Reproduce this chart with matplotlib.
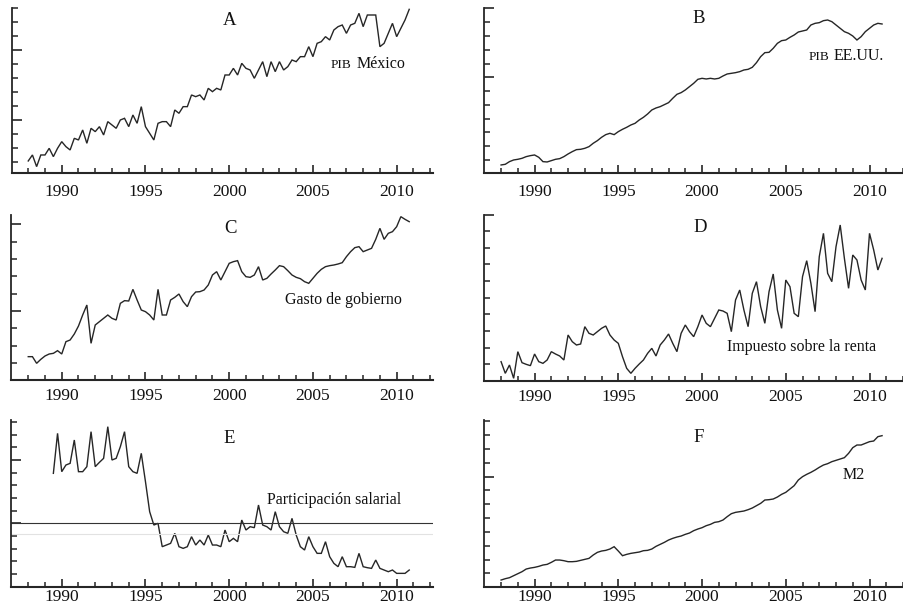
import numpy as np
import matplotlib
matplotlib.use("Agg")
import matplotlib.pyplot as plt

plt.rcParams['font.family'] = ['Liberation Serif', 'DejaVu Serif']

# Quarterly dates 1988Q1 .. 2010Q4
years = 1988 + np.arange(92) * 0.25

pib_mexico = [7.4, 11, 4, 11, 11, 15, 10, 15, 19, 16, 14, 21, 20, 26, 18, 27,
              25, 28, 23, 31, 29, 27, 32, 33, 28, 35, 30, 40, 28, 24, 20, 30,
              31, 31, 28, 38, 36, 40, 40, 47, 46, 47, 44, 51, 49, 51, 50, 59,
              59, 63, 59, 66, 63, 62, 57, 62, 67, 58, 67, 61, 67, 62, 64, 68,
              67, 70, 70, 76, 70, 78, 79, 82, 80, 86, 88, 89, 84, 89, 90, 96,
              88, 95, 95, 95, 76, 78, 84, 90, 82, 87, 92, 98.4]

pib_eeuu = [5, 5.4, 7, 8, 8.4, 9, 10, 10.6, 11, 9.6, 7, 6.8, 7.6, 8.4, 8.8, 10,
            11.6, 13, 14.2, 14.4, 15, 16, 18, 19.6, 21.6, 23.2, 24, 23.2, 25, 26.4, 27.6, 29,
            30, 32, 33.6, 35.6, 38, 39.2, 40, 41.2, 42.4, 45, 47.4, 48.4, 50, 52, 54, 56.4,
            57, 56.6, 57, 56.6, 57, 58.4, 59.6, 60, 60.4, 61, 62, 62.4, 63.6, 66.4, 70, 72.4,
            72.6, 75, 78, 79.6, 80, 81.6, 83, 84.8, 85.4, 86, 89, 90, 90.4, 91.6, 92, 91,
            89, 87, 85, 84, 82.4, 80, 82, 85, 87, 89, 90, 89.6]

gasto_gobierno = [14, 14, 10, 12.4, 14.4, 15.6, 16, 17.6, 15.6, 23, 24, 27.6, 32.4, 39, 45, 22,
                  33, 35, 37, 39, 37, 36, 46, 47.6, 47.4, 54.4, 48, 42, 41, 39, 36, 54.4,
                  39, 39, 48, 49.6, 51.6, 47, 44, 50, 52.8, 53, 54, 57, 63, 65, 60, 65,
                  70, 71, 71.6, 65, 62, 61.6, 63, 68, 60, 61, 63.6, 66, 68.6, 68, 65.6, 63,
                  61.6, 60.8, 59, 58, 61, 64, 66.4, 68, 68.6, 69, 69.6, 70.4, 74, 77, 79.4, 80,
                  77, 78, 79, 84.4, 91, 84.4, 88, 89, 92, 98, 96.4, 95]

impuesto_renta = [11.6, 4.6, 9.6, 1.6, 17.6, 11, 10, 9.2, 16.2, 11.6, 10.6, 12.6, 17.6, 16.2, 15, 12.6,
                  27.6, 23.6, 21.6, 22.2, 32.6, 28.6, 27.6, 29.6, 31.6, 33, 27.6, 24.6, 22.6, 14.6, 7.6, 4.6,
                  7.6, 10.2, 12.6, 16.6, 19.6, 15, 21.6, 24.6, 28.2, 22.6, 17.6, 28.6, 33.6, 29.6, 26.6, 32.6,
                  39.6, 34.6, 32.6, 37.6, 42.6, 42, 40.6, 29.6, 48.6, 54.6, 42.6, 32.6, 52.6, 59.6, 44.6, 34.6,
                  53.6, 64.2, 42.6, 31.6, 60.6, 56.6, 40.6, 38.6, 62.6, 72.2, 58.6, 41.6, 74.6, 88.6, 64.6, 59.6,
                  80.6, 93.6, 73.6, 55.6, 75.6, 72.6, 60.6, 54.6, 88.6, 78.6, 66.6, 73.6]

participacion_salarial = [np.nan] * 6 + [
    68, 92, 69, 73, 74, 88, 69, 69, 72, 93,
    72, 74.6, 77, 96, 76, 77, 84, 93, 72, 69, 68, 80, 63, 45, 37, 38,
    24, 25, 26, 32, 24, 23, 24, 30, 25, 28, 25, 31, 25, 25, 24, 34,
    27, 29, 27, 40, 34, 36, 35.4, 49, 37, 36, 34, 45, 36, 33, 32, 41,
    31, 24, 22, 30, 24, 20, 20, 27, 18, 14, 12, 18, 12, 12, 11.6, 20,
    12, 11.4, 11, 16, 11, 10, 9, 10, 8, 8, 8, 10]

m2 = [4, 4.8, 5.4, 6.6, 7.8, 9, 10.6, 11.2, 11.6, 12.2, 13, 13.4, 14.6, 16, 16, 15.6,
      15, 15, 15.2, 15.8, 16.4, 17, 19, 20.6, 21.4, 21.8, 22.6, 24, 21.4, 18.6, 19.4, 20,
      20.4, 20.8, 21.6, 21.8, 22.6, 24.2, 25.4, 26.6, 28, 29, 29.8, 30.4, 31.4, 32.2, 33.6, 34.6,
      35.4, 36.6, 37.4, 38.6, 39, 40, 42, 43.8, 44.6, 45, 45.4, 46.2, 47.2, 48.6, 50, 52,
      52.2, 52.6, 53.8, 55.4, 56.6, 58.6, 60.6, 64, 66, 67.4, 68.6, 70, 71.6, 73, 73.8, 75,
      75.8, 76.6, 77.4, 80, 83.4, 85, 85, 86, 87, 87.4, 90, 90.6]

umbral_salarial = 38.0

panel_letters = ["A", "B", "C", "D", "E", "F"]
series_labels = ["México", "EE.UU.", "Gasto de gobierno",
                 "Impuesto sobre la renta", "Participación salarial", "M2"]
series = [pib_mexico, pib_eeuu, gasto_gobierno, impuesto_renta,
          participacion_salarial, m2]

W, H = 904, 608
fig = plt.figure(figsize=(W / 100, H / 100), dpi=100)

# layout in pixels: left, right, bottom, top, xlim, ylim, tick label pad
layout = [
    dict(l=12, r=433, b=173.3, t=7.5, xlim=(1987.03, 2012.17), ylim=(0, 99.5), pad=7.5),
    dict(l=484, r=903, b=173.3, t=7.5, xlim=(1986.98, 2011.95), ylim=(0, 99.5), pad=7.5),
    dict(l=11, r=433, b=380, t=215, xlim=(1986.97, 2012.17), ylim=(0, 99), pad=5.5),
    dict(l=484, r=903, b=381, t=215, xlim=(1986.98, 2011.95), ylim=(0, 99.6), pad=5.5),
    dict(l=11, r=433, b=586.7, t=420, xlim=(1986.97, 2012.17), ylim=(0, 100), pad=2.0),
    dict(l=484, r=903, b=586.7, t=420, xlim=(1986.98, 2011.95), ylim=(0, 100), pad=2.0),
]

ytick_sets = [
    (list(np.arange(6.8, 100, 8.4)), [32, 74]),
    (list(8 + 8.27 * np.arange(12)), [57.6, 99]),
    (list(10.2 + 10.4 * np.arange(9)), [41.4, 93.4]),
    (list(np.arange(10, 100, 10)) + [99.6], [99.6]),
    (list(7.6 + 7.6 * np.arange(13)), [38, 76]),
    (list(8 + 8.3 * np.arange(12)), [66.1]),
]

title_pos = [(2000.05, 91.6), (1999.82, 93.0), (2000.05, 90.8),
             (1999.9, 92.4), (2000.0, 88.8), (1999.8, 89.8)]
# baseline positions of the series labels
label_pos = [(2007.63, 62.9), (2007.84, 67.7), (2003.33, 45.5),
             (2001.52, 18.0), (2002.26, 49.8), (2008.37, 64.8)]
pib_pos = [(2007.27, 62.9), (2007.6, 67.7)]

ink = "#262626"

for k in range(6):
    L = layout[k]
    rect = [L['l'] / W, 1 - L['b'] / H, (L['r'] - L['l']) / W, (L['b'] - L['t']) / H]
    ax = fig.add_axes(rect)
    ax.set_xlim(*L['xlim'])
    ax.set_ylim(*L['ylim'])
    ax.plot(years, series[k], color=ink, lw=1.0, solid_joinstyle='miter', clip_on=False)

    if k == 4:
        ax.axhline(umbral_salarial, color="#333333", lw=0.8)
        ax.axhline(umbral_salarial - 6.6, color="#e2e2e2", lw=0.8)

    for s in ["top", "right"]:
        ax.spines[s].set_visible(False)
    ax.spines["bottom"].set_linewidth(1.5)
    ax.spines["left"].set_linewidth(1.3)
    ax.spines["bottom"].set_color(ink)
    ax.spines["left"].set_color(ink)

    ax.set_xticks([1990, 1995, 2000, 2005, 2010])
    ax.set_xticks(np.arange(1988, 2013, 1), minor=True)
    ax.set_xticklabels(["1990", "1995", "2000", "2005", "2010"])
    minor_y, major_y = ytick_sets[k]
    ax.set_yticks(major_y)
    ax.set_yticks([v for v in minor_y if all(abs(v - m) > 0.5 for m in major_y)], minor=True)
    ax.set_yticklabels([])
    ax.tick_params(axis='x', which='major', direction='in', length=6, width=1.2,
                   color=ink, labelsize=12.5, pad=L['pad'], labelcolor="#111111")
    ax.tick_params(axis='x', which='minor', direction='in', length=3.5, width=1.1, color=ink)
    ax.tick_params(axis='y', which='major', direction='in', length=7, width=1.2, color=ink)
    ax.tick_params(axis='y', which='minor', direction='in', length=4, width=1.1, color=ink)
    ax.patch.set_alpha(0)

    tx, ty = title_pos[k]
    ax.text(tx, ty, panel_letters[k], ha='center', va='center', fontsize=13.5, color="#111111")
    lx, ly = label_pos[k]
    ax.text(lx, ly, series_labels[k], ha='left', va='baseline', fontsize=11.5, color="#111111")
    if k < 2:
        px, py = pib_pos[k]
        ax.text(px, py, "PIB", ha='right', va='baseline', fontsize=9.5, color="#111111")

fig.savefig("out.png", dpi=100)
